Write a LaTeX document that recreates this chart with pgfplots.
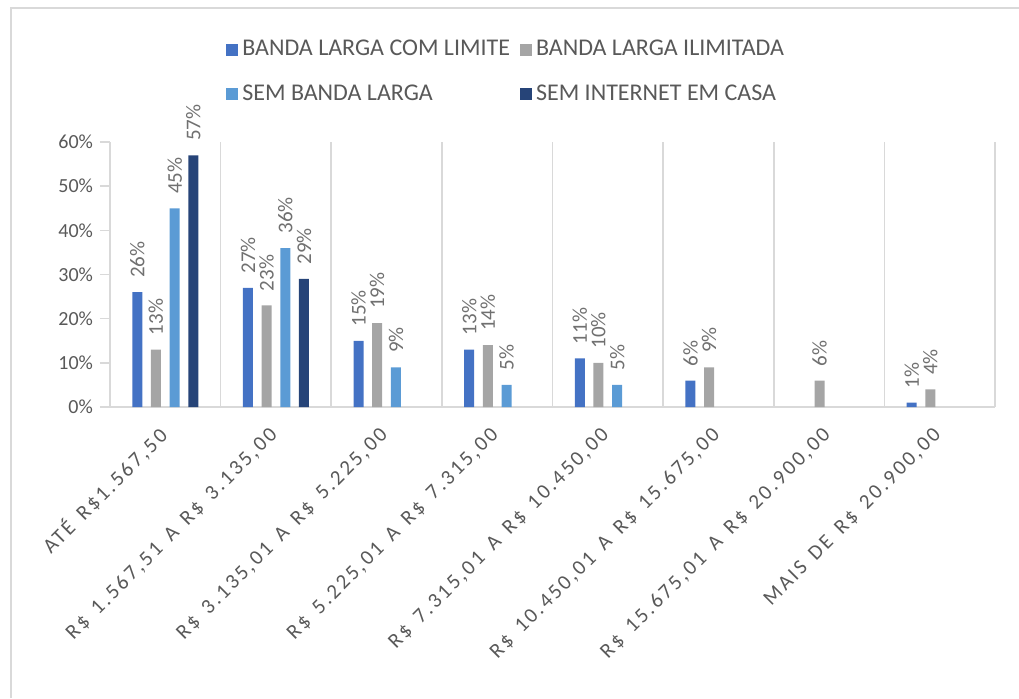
\documentclass[border=0pt]{standalone}
\usepackage{fontspec}
\setmainfont{Carlito}
\newfontfamily\xlabfont[LetterSpace=12,WordSpace=1.5]{Carlito}
\usepackage{pgfplots}
\pgfplotsset{compat=1.18}
\definecolor{serA}{HTML}{4472C4}
\definecolor{serB}{HTML}{A5A5A5}
\definecolor{serC}{HTML}{5B9BD5}
\definecolor{serD}{HTML}{264478}
\definecolor{lineGray}{HTML}{D9D9D9}
\definecolor{txtGray}{HTML}{595959}
\definecolor{labGray}{HTML}{707070}
\begin{document}
\begin{tikzpicture}
\path[use as bounding box] (0,0) rectangle (509.5pt,349pt);
\draw[lineGray, line width=1pt] (5.5pt,0) -- (5.5pt,345pt) -- (509.5pt,345pt);
\begin{axis}[
    at={(55pt,145.5pt)}, anchor=south west,
    scale only axis, width=442.5pt, height=132.5pt,
    ybar, bar width=5pt,
    xmin=-0.5, xmax=7.5, ymin=0, ymax=60,
    axis x line*=bottom, axis y line*=left,
    axis line style={-, draw=lineGray, line width=0.8pt},
    xtick={0,...,7},
    xticklabels={{ATÉ R\$1.567,50},{R\$ 1.567,51 A R\$ 3.135,00},{R\$ 3.135,01 A R\$ 5.225,00},{R\$ 5.225,01 A R\$ 7.315,00},{R\$ 7.315,01 A R\$ 10.450,00},{R\$ 10.450,01 A R\$ 15.675,00},{R\$ 15.675,01 A R\$ 20.900,00},{MAIS DE R\$ 20.900,00}},
    xticklabel style={font=\xlabfont\fontsize{10.5}{12}\selectfont, text=txtGray, xshift=1.5pt, yshift=-5pt, rotate=45, anchor=east},
    major x tick style={draw=none},
    minor xtick={0.5,1.5,...,7.5}, xminorgrids, minor tick length=0pt,
    minor grid style={draw=lineGray, line width=0.8pt},
    ytick={0,10,...,60},
    yticklabels={0\%,10\%,20\%,30\%,40\%,50\%,60\%},
    yticklabel style={font=\fontsize{10}{12}\selectfont, text=txtGray},
    tick align=outside, major tick length=5pt,
    major y tick style={draw=lineGray, line width=0.8pt},
    nodes near coords={\pgfmathprintnumber[fixed,precision=0,assume math mode=true]{\pgfplotspointmeta}\%},
    every node near coord/.append style={rotate=90, anchor=west, font=\fontsize{10.5}{12}\selectfont, text=labGray, inner xsep=7pt, inner ysep=0pt},
    legend columns=2,
    legend cell align=left,
    legend style={at={(0.131,1.40)}, anchor=north west, draw=none, inner sep=0pt,
        font=\fontsize{12}{14}\selectfont, text=txtGray, row sep=9pt,
        /tikz/every even column/.append style={column sep=3pt}},
    legend image code/.code={\fill[#1] (0pt,-3pt) rectangle (6pt,3pt);},
]
\addplot[fill=serA, draw=none, bar shift=-14pt] coordinates {(0,26) (1,27) (2,15) (3,13) (4,11) (5,6) (7,1)};
\addlegendentry{BANDA LARGA COM LIMITE}
\addplot[fill=serB, draw=none, bar shift=-4.7pt] coordinates {(0,13) (1,23) (2,19) (3,14) (4,10) (5,9) (6,6) (7,4)};
\addlegendentry{BANDA LARGA ILIMITADA}
\addplot[fill=serC, draw=none, bar shift=4.7pt] coordinates {(0,45) (1,36) (2,9) (3,5) (4,5)};
\addlegendentry{SEM BANDA LARGA}
\addplot[fill=serD, draw=none, bar shift=14pt] coordinates {(0,57) (1,29)};
\addlegendentry{SEM INTERNET EM CASA}
\end{axis}
\end{tikzpicture}
\end{document}
